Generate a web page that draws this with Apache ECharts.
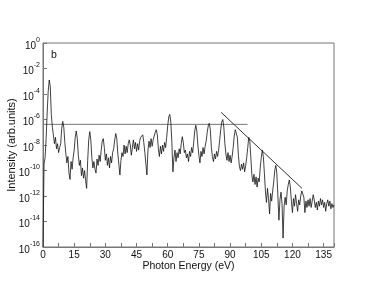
<!DOCTYPE html>
<html>
<head>
<meta charset="utf-8">
<script src="https://cdn.jsdelivr.net/npm/echarts@6/dist/echarts.min.js"></script>
<style>
html,body{margin:0;padding:0;background:#fff;}
#chart{width:376px;height:291px;}
</style>
</head>
<body>
<div id="chart"></div>
<script>
// Photon energy sampling (eV): first sample and step
const energyStart = 0;
const energyStep = 0.5;
// log10 of intensity (arb. units), one value per 0.5 eV from 0 to 140 eV
const logIntensity = [
  -16, -9.5, -9.0, -7.5, -5.5, -3.8, -2.9, -3.4, -5.6, -6.6,
  -7.2, -7.9, -7.4, -8.3, -7.9, -8.6, -8.2, -7.9, -6.7, -6.15,
  -6.6, -7.8, -8.7, -9.4, -8.9, -10.2, -10.7, -9.3, -9.9, -9.0,
  -8.4, -7.4, -6.9, -7.5, -8.8, -9.6, -9.2, -10.4, -9.8, -10.6,
  -10.0, -10.8, -11.4, -9.2, -7.6, -6.95, -7.6, -9.0, -9.8, -9.3,
  -9.9, -10.2, -9.1, -9.6, -8.8, -9.3, -8.4, -7.7, -7.5, -8.2,
  -9.2, -8.7, -9.6, -9.0, -9.8, -8.9, -9.4, -8.6, -8.3, -7.6,
  -7.1, -7.5, -8.7, -9.5, -10.35, -9.2, -8.6, -8.9, -8.0, -8.7,
  -8.1, -8.6, -7.9, -7.6, -8.0, -8.8, -8.2, -7.6, -8.3, -7.8,
  -8.5, -7.9, -8.4, -7.7, -7.4, -7.3, -7.2, -7.8, -8.6, -9.5,
  -10.35, -8.4, -7.7, -8.2, -7.5, -8.1, -7.6, -7.3, -7.0, -6.8,
  -7.2, -8.3, -8.9, -8.1, -8.7, -8.0, -8.5, -7.8, -8.2, -7.4,
  -6.5, -5.8, -5.6, -6.2, -7.8, -10.1, -9.0, -8.4, -9.3, -8.6,
  -9.0, -8.3, -8.7, -7.9, -7.35, -7.8, -8.6, -8.4, -9.0, -8.7,
  -9.3, -8.5, -8.9, -8.2, -8.6, -7.8, -6.9, -6.45, -6.9, -8.0,
  -8.8, -9.4, -8.5, -8.9, -8.2, -8.7, -8.1, -7.7, -7.0, -6.5,
  -6.3, -6.8, -8.2, -8.9, -9.3, -8.7, -9.1, -8.5, -8.9, -8.4,
  -7.6, -6.8, -6.2, -6.0, -6.6, -7.9, -8.7, -9.2, -8.6, -9.3,
  -8.8, -9.4, -8.9, -8.2, -7.3, -6.8, -6.7, -7.4, -8.8, -9.7,
  -10.0, -9.5, -9.9, -9.4, -10.1, -9.6, -9.0, -8.2, -7.4, -7.7,
  -9.0, -10.4, -10.9, -10.3, -11.1, -10.5, -11.3, -10.6, -10.9, -9.8,
  -9.0, -8.4, -8.9, -10.2, -11.6, -12.5, -11.4, -12.2, -13.4, -11.8,
  -12.4, -11.6, -10.9, -10.0, -9.6, -10.2, -12.0, -13.9, -12.3, -11.7,
  -12.6, -15.3, -12.8, -12.1, -12.7, -11.6, -11.1, -10.75, -11.3, -12.4,
  -13.3, -12.2, -12.8, -11.9, -12.6, -13.2, -12.3, -12.7, -12.0, -11.6,
  -11.5, -12.1, -13.3, -12.4, -12.9, -12.3, -12.8, -12.2, -12.9, -12.4,
  -11.9, -12.3, -12.9, -12.5, -13.1, -12.4, -12.8, -12.2, -12.7, -12.3,
  -12.9, -12.5, -13.2, -12.6, -12.3, -12.8, -12.4, -13.0, -12.6, -12.9,
  -12.7
];
// guide lines: [energy eV, log10 intensity]
const plateauLine = [[0, -6.38], [98.4, -6.38]];
const cutoffLine = [[85.7, -5.44], [124.6, -11.4]];
const xTickLabels = [0, 15, 30, 45, 60, 75, 90, 105, 120, 135];
const yTickExponents = [0, -2, -4, -6, -8, -10, -12, -14, -16];

const spectrum = logIntensity.map((v, i) => [energyStart + i * energyStep, v]);

const chart = echarts.init(document.getElementById('chart'), null, {renderer: 'canvas'});
const font = 'Liberation Sans, Arial, Helvetica, sans-serif';
const axisColor = '#777';
chart.setOption({
  animation: false,
  backgroundColor: '#fff',
  grid: {left: 43, right: 42, top: 43, bottom: 44, show: true, borderColor: axisColor, borderWidth: 1,
         containLabel: false, outerBoundsMode: 'none'},
  xAxis: {
    type: 'value', min: 0, max: 140, interval: 7.5,
    name: 'Photon Energy (eV)', nameLocation: 'middle', nameGap: 14, nameMoveOverlap: false,
    nameTextStyle: {fontFamily: font, fontSize: 10.5, color: '#111'},
    axisLine: {show: true, onZero: false, lineStyle: {color: axisColor, width: 1}},
    axisTick: {show: true, inside: true, length: 4, lineStyle: {color: axisColor}},
    splitLine: {show: false},
    axisLabel: {
      fontFamily: font, fontSize: 10, color: '#111', margin: 3,
      formatter: v => (xTickLabels.indexOf(v) >= 0 ? String(v) : '')
    }
  },
  yAxis: {
    type: 'value', min: -16, max: 0, interval: 2,
    name: 'Intensity (arb.units)', nameLocation: 'middle', nameGap: 26, nameRotate: 90,
    nameMoveOverlap: false,
    nameTextStyle: {fontFamily: font, fontSize: 11, color: '#111'},
    axisLine: {show: true, onZero: false, lineStyle: {color: axisColor, width: 1}},
    axisTick: {show: true, inside: true, length: 4, lineStyle: {color: axisColor}},
    splitLine: {show: false},
    axisLabel: {
      margin: 3, color: '#111',
      formatter: v => (yTickExponents.indexOf(v) >= 0 ? '{b|10}{s|' + v + '}' : ''),
      rich: {
        b: {fontFamily: font, fontSize: 10, color: '#111', padding: [6, 0, 0, 0]},
        s: {fontFamily: font, fontSize: 7, color: '#111', padding: [0, 0, 6, 0]}
      }
    }
  },
  graphic: [{
    type: 'text', left: 51, top: 50,
    style: {text: 'b', fontFamily: font, fontSize: 10.5, fill: '#111'}
  }],
  series: [
    {type: 'line', data: spectrum, showSymbol: false, symbol: 'none',
     lineStyle: {color: '#111', width: 0.8}, z: 3},
    {type: 'line', data: plateauLine, showSymbol: false, symbol: 'none',
     lineStyle: {color: '#777', width: 1}, z: 2},
    {type: 'line', data: cutoffLine, showSymbol: false, symbol: 'none',
     lineStyle: {color: '#333', width: 1}, z: 2}
  ]
});
</script>
</body>
</html>
